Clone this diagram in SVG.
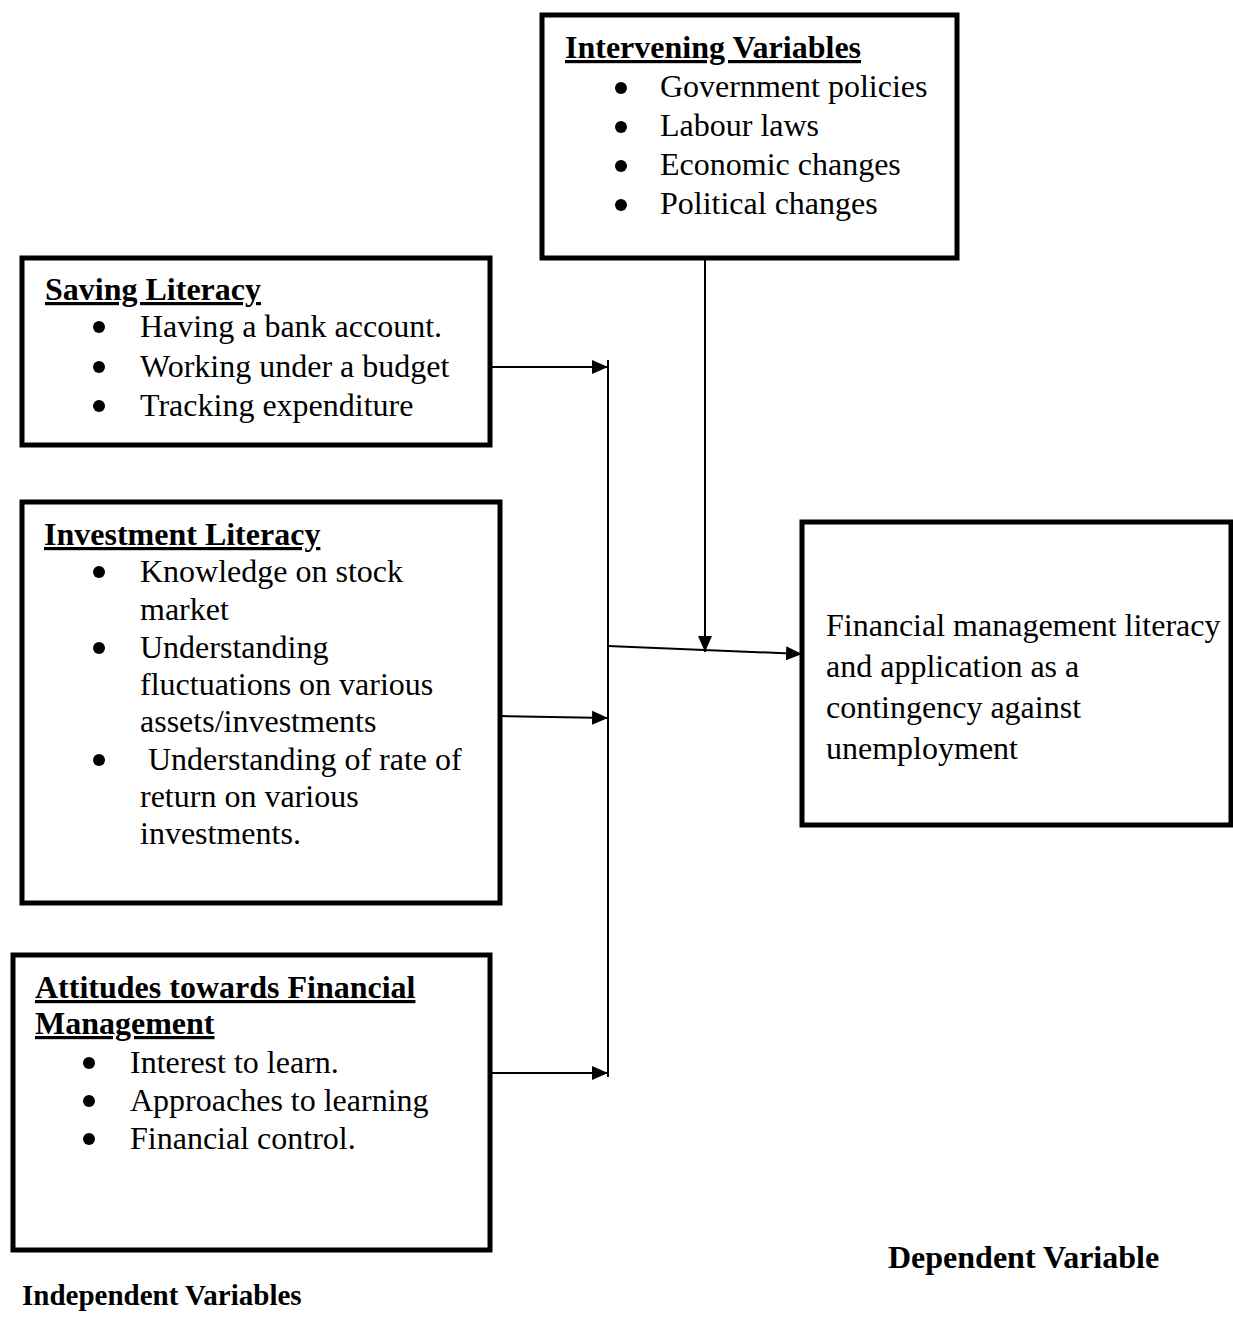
<svg xmlns="http://www.w3.org/2000/svg" width="1233" height="1335" viewBox="0 0 1233 1335">
<style>
.box{fill:#fff;stroke:#000;stroke-width:5}
.t{font-family:"Liberation Serif","Times New Roman",serif;font-size:32px;fill:#000}
.h{font-family:"Liberation Serif","Times New Roman",serif;font-size:32px;font-weight:bold;fill:#000;text-decoration:underline}
.b{font-family:"Liberation Serif","Times New Roman",serif;font-size:32px;font-weight:bold;fill:#000}
.c{stroke:#000;stroke-width:2;fill:none}
.dot{fill:#000}
</style>
<defs>
<marker id="ah" markerUnits="userSpaceOnUse" markerWidth="16" markerHeight="14" refX="16" refY="7" orient="auto">
<path d="M0,0 L16,7 L0,14 Z" fill="#000"/>
</marker>
</defs>
<rect width="1233" height="1335" fill="#fff"/>
<g id="connectors">
<line class="c" x1="608" y1="360" x2="608" y2="1077"/>
<line class="c" x1="490" y1="367" x2="608" y2="367" marker-end="url(#ah)"/>
<line class="c" x1="500" y1="716" x2="608" y2="718" marker-end="url(#ah)"/>
<line class="c" x1="490" y1="1073" x2="608" y2="1073" marker-end="url(#ah)"/>
<line class="c" x1="705" y1="256" x2="705" y2="652" marker-end="url(#ah)"/>
<line class="c" x1="608" y1="646" x2="802" y2="654" marker-end="url(#ah)"/>
</g>
<g id="intervening">
<rect class="box" x="542" y="15" width="415" height="243"/>
<text class="h" x="565" y="58">Intervening Variables</text>
<circle class="dot" cx="621" cy="88" r="6"/><text class="t" x="660" y="97">Government policies</text>
<circle class="dot" cx="621" cy="127" r="6"/><text class="t" x="660" y="136">Labour laws</text>
<circle class="dot" cx="621" cy="166" r="6"/><text class="t" x="660" y="175">Economic changes</text>
<circle class="dot" cx="621" cy="205" r="6"/><text class="t" x="660" y="214">Political changes</text>
</g>
<g id="saving">
<rect class="box" x="22" y="258" width="468" height="187"/>
<text class="h" x="45" y="300">Saving Literacy</text>
<circle class="dot" cx="99" cy="327" r="6"/><text class="t" x="140" y="337">Having a bank account.</text>
<circle class="dot" cx="99" cy="367" r="6"/><text class="t" x="140" y="377">Working under a budget</text>
<circle class="dot" cx="99" cy="406" r="6"/><text class="t" x="140" y="416">Tracking expenditure</text>
</g>
<g id="investment">
<rect class="box" x="22" y="502" width="478" height="401"/>
<text class="h" x="44" y="545">Investment Literacy</text>
<circle class="dot" cx="99" cy="572" r="6"/><text class="t" x="140" y="582">Knowledge on stock</text>
<text class="t" x="140" y="620">market</text>
<circle class="dot" cx="99" cy="648" r="6"/><text class="t" x="140" y="658">Understanding</text>
<text class="t" x="140" y="695">fluctuations on various</text>
<text class="t" x="140" y="732">assets/investments</text>
<circle class="dot" cx="99" cy="760" r="6"/><text class="t" x="140" y="770" xml:space="preserve"> Understanding of rate of</text>
<text class="t" x="140" y="807">return on various</text>
<text class="t" x="140" y="844">investments.</text>
</g>
<g id="attitudes">
<rect class="box" x="13" y="955" width="477" height="295"/>
<text class="h" x="35" y="998">Attitudes towards Financial</text>
<text class="h" x="35" y="1034">Management</text>
<circle class="dot" cx="89" cy="1063" r="6"/><text class="t" x="130" y="1073">Interest to learn.</text>
<circle class="dot" cx="89" cy="1101" r="6"/><text class="t" x="130" y="1111">Approaches to learning</text>
<circle class="dot" cx="89" cy="1139" r="6"/><text class="t" x="130" y="1149">Financial control.</text>
</g>
<g id="dependent">
<rect class="box" x="802" y="522" width="429" height="303"/>
<text class="t" x="826" y="636">Financial management literacy</text>
<text class="t" x="826" y="677">and application as a</text>
<text class="t" x="826" y="718">contingency against</text>
<text class="t" x="826" y="759">unemployment</text>
</g>
<g id="labels">
<text class="b" x="888" y="1268">Dependent Variable</text>
<text class="b" x="22" y="1305" style="font-size:29px">Independent Variables</text>
</g>
</svg>
